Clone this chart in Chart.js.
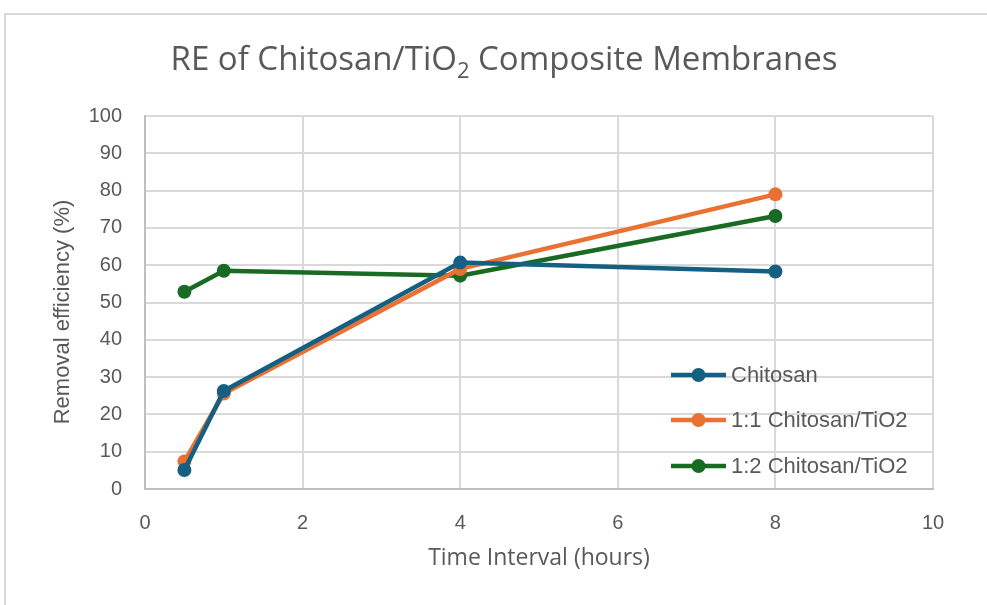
<!DOCTYPE html>
<html>
<head>
<meta charset="utf-8">
<script src="https://cdn.jsdelivr.net/npm/chart.js@4/dist/chart.umd.min.js"></script>
<style>
  html, body { margin: 0; padding: 0; background: #fff; }
  #wrap { position: relative; width: 987px; height: 605px; }
  canvas { display: block; }
</style>
</head>
<body>
<div id="wrap"><canvas id="c" width="987" height="605"></canvas></div>
<script>
// Time points (hours) and removal efficiency (%) for each membrane
const hours = [0.5, 1, 4, 8];
const chitosan = [5.1, 26.3, 60.7, 58.3];
const chitosanTiO2_11 = [7.4, 25.6, 59.0, 79.0];
const chitosanTiO2_12 = [52.9, 58.5, 57.2, 73.2];
const seriesNames = ['Chitosan', '1:1 Chitosan/TiO2', '1:2 Chitosan/TiO2'];
const xTicks = [0, 2, 4, 6, 8, 10];
const yTicks = [0, 10, 20, 30, 40, 50, 60, 70, 80, 90, 100];

const colors = ['#156082', '#E97132', '#196B24'];
const textColor = '#595959';
const gridColor = '#d9d9d9';

function toPoints(ys) { return hours.map((h, i) => ({ x: h, y: ys[i] })); }

const datasets = [chitosan, chitosanTiO2_11, chitosanTiO2_12].map((ys, i) => ({
  label: seriesNames[i],
  data: toPoints(ys),
  borderColor: colors[i],
  backgroundColor: colors[i],
  borderWidth: 4.5,
  pointRadius: 7,
  pointHoverRadius: 7,
  pointBorderWidth: 0,
  showLine: true,
  tension: 0
}));

// Frame, title with subscript, axis titles and in-plot legend
const decorations = {
  id: 'decorations',
  beforeDraw(chart) {
    const ctx = chart.ctx;
    ctx.save();
    ctx.fillStyle = '#fff';
    ctx.fillRect(0, 0, chart.width, chart.height);
    ctx.strokeStyle = '#d9d9d9';
    ctx.lineWidth = 2;
    ctx.beginPath();
    ctx.moveTo(5, chart.height);
    ctx.lineTo(5, 14);
    ctx.lineTo(chart.width, 14);
    ctx.stroke();
    ctx.restore();
  },
  afterDraw(chart) {
    const ctx = chart.ctx;
    ctx.save();
    ctx.fillStyle = textColor;

    // Title
    const tFont = '33px "Open Sans", "Liberation Sans", sans-serif';
    const sFont = '22px "Open Sans", "Liberation Sans", sans-serif';
    const p1 = 'RE of Chitosan/TiO', p2 = '2', p3 = ' Composite Membranes';
    ctx.font = tFont; const w1 = ctx.measureText(p1).width; const w3 = ctx.measureText(p3).width;
    ctx.font = sFont; const w2 = ctx.measureText(p2).width;
    const total = w1 + w2 + w3;
    let x = 504 - total / 2;
    const base = 70;
    ctx.textBaseline = 'alphabetic';
    ctx.textAlign = 'left';
    ctx.font = tFont; ctx.fillText(p1, x, base); x += w1;
    ctx.font = sFont; ctx.fillText(p2, x, base + 8); x += w2;
    ctx.font = tFont; ctx.fillText(p3, x, base);

    // Axis titles
    ctx.textAlign = 'center';
    ctx.textBaseline = 'middle';
    ctx.font = '23px "Open Sans", "Liberation Sans", sans-serif';
    ctx.fillText('Time Interval (hours)', 539, 558);
    ctx.save();
    ctx.translate(63, 312);
    ctx.rotate(-Math.PI / 2);
    ctx.font = '22px "Liberation Sans", Arial, sans-serif';
    ctx.fillText('Removal efficiency (%)', 0, 0);
    ctx.restore();

    // Legend
    ctx.font = '22px "Liberation Sans", Arial, sans-serif';
    ctx.textAlign = 'left';
    const rows = [375, 420, 466];
    datasets.forEach((d, i) => {
      const y = rows[i];
      ctx.strokeStyle = d.borderColor;
      ctx.lineWidth = 4.5;
      ctx.beginPath();
      ctx.moveTo(671, y); ctx.lineTo(726, y);
      ctx.stroke();
      ctx.fillStyle = d.borderColor;
      ctx.beginPath();
      ctx.arc(698.5, y, 7, 0, Math.PI * 2);
      ctx.fill();
      ctx.fillStyle = textColor;
      ctx.fillText(d.label, 731, y + 1);
    });
    ctx.restore();
  }
};

new Chart(document.getElementById('c'), {
  type: 'scatter',
  data: { datasets },
  options: {
    responsive: false,
    animation: false,
    devicePixelRatio: 1,
    layout: { padding: { top: 116, right: 54, left: 0, bottom: 0 } },
    plugins: {
      legend: { display: false },
      title: { display: false },
      tooltip: { enabled: false }
    },
    scales: {
      x: {
        type: 'linear',
        min: 0, max: 10,
        afterBuildTicks(scale) { scale.ticks = xTicks.map(v => ({ value: v })); },
        afterFit(scale) { scale.height = 116; },
        grid: { color: gridColor, lineWidth: 2, drawTicks: false },
        border: { color: '#bfbfbf', width: 2 },
        ticks: {
          color: textColor,
          padding: 22,
          font: { family: '"Liberation Sans", Arial, sans-serif', size: 20 }
        }
      },
      y: {
        type: 'linear',
        min: 0, max: 100,
        afterBuildTicks(scale) { scale.ticks = yTicks.map(v => ({ value: v })); },
        afterFit(scale) { scale.width = 145; },
        grid: { color: gridColor, lineWidth: 2, drawTicks: false },
        border: { color: '#bfbfbf', width: 2 },
        ticks: {
          color: textColor,
          padding: 23,
          font: { family: '"Liberation Sans", Arial, sans-serif', size: 20 }
        }
      }
    }
  },
  plugins: [decorations]
});
</script>
</body>
</html>
